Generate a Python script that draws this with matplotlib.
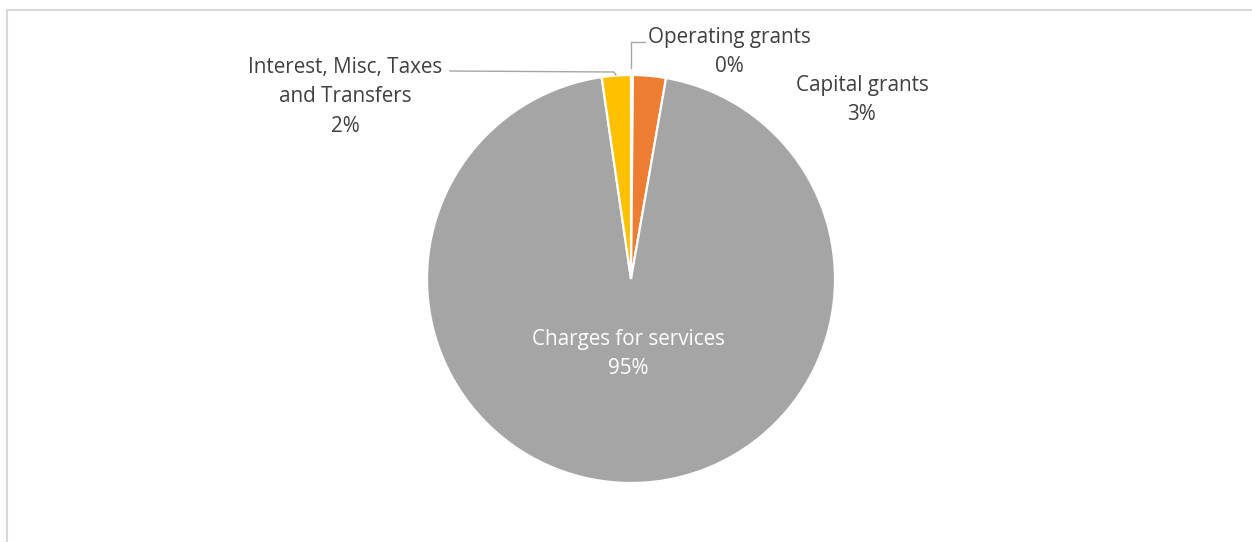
import matplotlib
matplotlib.use("Agg")
import matplotlib.pyplot as plt
from matplotlib.patches import Rectangle

# --- DATA ---
categories = ["Operating grants", "Capital grants", "Charges for services",
              "Interest, Misc, Taxes\nand Transfers"]
shares = [0.15, 2.6, 94.95, 2.3]
pct_labels = ["0%", "3%", "95%", "2%"]
colors = ["#4472C4", "#ED7D31", "#A5A5A5", "#FFC000"]

plt.rcParams['font.family'] = ['Open Sans', 'DejaVu Sans']

W, H = 1252, 542
cx, cy, R = 631, 279, 204


def to_data(px, py):
    return (px - cx) / R, (cy - py) / R


fig = plt.figure(figsize=(W / 100, H / 100), dpi=100)
ax = fig.add_axes([0, 0, 1, 1])

ax.pie(shares, colors=colors, startangle=90, counterclock=False, radius=1,
       wedgeprops=dict(edgecolor='white', linewidth=1.6))

# pie() resets limits, so set them afterwards
ax.set_aspect('auto')
ax.set_xlim(-cx / R, (W - cx) / R)
ax.set_ylim(-(H - cy) / R, cy / R)
ax.axis('off')

text_kw = dict(ha='center', va='center', fontsize=14.9, color='#404040', linespacing=1.5)

# label positions (pixels in reference)
label_pos = [(729, 52), (862, 100), (628, 354), (345, 97)]
for i, (name, pct) in enumerate(zip(categories, pct_labels)):
    x, y = to_data(*label_pos[i])
    kw = dict(text_kw)
    if i == 2:
        kw['color'] = 'white'
    ax.text(x, y, f"{name}\n{pct}", **kw)

# leader lines
lead1 = [to_data(631, 68), to_data(631, 42), to_data(645, 42)]
lead2 = [to_data(450, 71), to_data(614, 72), to_data(616, 75)]
for pts in (lead1, lead2):
    xs, ys = zip(*pts)
    ax.plot(xs, ys, color='#a6a6a6', linewidth=1.0)

# chart area border (cropped at right/bottom)
fig.patches.append(Rectangle((6.5 / W, -0.1), 1.2, 1.1 - 9.5 / H,
                             transform=fig.transFigure, fill=False,
                             edgecolor='#d9d9d9', linewidth=1.5))

fig.savefig("out.png", dpi=100)
